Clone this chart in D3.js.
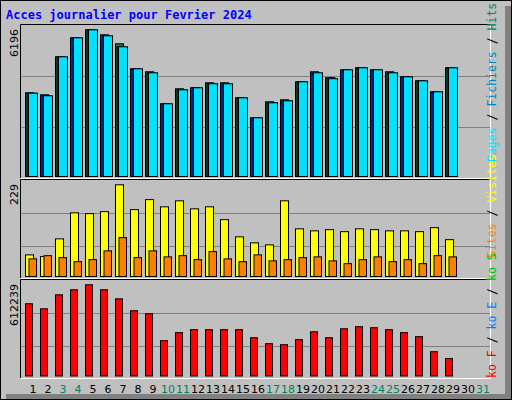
<!DOCTYPE html><html><head><meta charset="utf-8"><script src="https://cdn.jsdelivr.net/npm/d3@7"></script>
<style>body{margin:0;background:#fff}</style></head><body><svg id="c" width="512" height="400"></svg><script>
const days=d3.range(1,32);
const weekend=[3,4,10,11,17,18,24,25,31];
const hits=[3535,3451,5056,5859,6196,5985,5605,4549,4423,3071,3704,3747,3958,3958,3324,2480,3155,3240,4000,4423,4169,4507,4592,4507,4423,4211,4042,3578,4592];
const files=[3519,3409,5056,5859,6196,5943,5479,4549,4380,3071,3662,3747,3916,3916,3324,2480,3113,3198,4000,4380,4169,4507,4592,4507,4380,4211,4042,3578,4592];
const pages=[3519,3409,5056,5859,6196,5943,5479,4549,4380,3071,3662,3747,3916,3916,3324,2480,3113,3198,4000,4380,4130,4507,4592,4507,4380,4211,4042,3578,4592];
const visits=[54,50,94,159,157,162,229,167,192,174,189,169,174,142,99,84,79,189,119,114,117,112,119,117,114,114,112,122,92];
const sites=[44,52,47,37,42,64,97,47,64,49,52,42,62,44,37,54,39,42,47,49,39,32,42,49,37,42,32,52,49];
const kbytes=[485000,451000,545000,579000,612239,579000,518000,438000,418000,237000,291000,311000,311000,311000,311000,257000,217000,210000,244000,297000,257000,317000,331000,324000,311000,291000,264000,163000,117000];
const svg=d3.select("#c");
svg.append("rect").attr("x",0.5).attr("y",0.5).attr("width",511).attr("height",399).attr("fill","#c0c0c0").attr("stroke","#000");
svg.append("rect").attr("x",505).attr("y",6).attr("width",6).attr("height",393).attr("fill","#808080");
svg.append("rect").attr("x",6).attr("y",394).attr("width",505).attr("height",5).attr("fill","#808080");
svg.append("text").attr("x",6).attr("y",19).text("Acces journalier pour Fevrier 2024").attr("font-family","DejaVu Sans Mono").attr("font-weight","bold").attr("font-size",12).attr("fill","#0000ff");
const x=d3.scaleLinear().domain([1,31]).range([33,483]);
function panel(y0,y1,grids){
  svg.append("rect").attr("x",20.5).attr("y",y0+.5).attr("width",470).attr("height",y1-y0).attr("fill","#c0c0c0");
  grids.forEach(g=>svg.append("line").attr("x1",21).attr("x2",490).attr("y1",g).attr("y2",g).attr("stroke","#808080"));
  svg.append("path").attr("d",`M20.5,${y1}V${y0+.5}H490.5`).attr("stroke","#000").attr("fill","none");
  svg.append("path").attr("d",`M20.5,${y1+.5}H490.5V${y0+.5}`).attr("stroke","#fff").attr("fill","none");
}
panel(24,178,[76.5,127.5]);panel(179,278,[213.5,246.5]);panel(279,378,[313.5,346.5]);
function bars(data,ys,off,w,col){
  svg.append("g").selectAll("rect").data(data).join("rect")
   .attr("x",(d,i)=>x(i+1)+off+.5).attr("y",d=>ys(d)+.5).attr("width",w).attr("height",d=>ys.range()[0]-ys(d))
   .attr("fill",col).attr("stroke","#000");
}
const y1=d3.scaleLinear().domain([0,6196]).range([176,29.3]);
bars(hits,y1,-8,8,"#008060");bars(files,y1,-6.5,8,"#0040ff");bars(pages,y1,-5,9,"#00e0ff");
const y2=d3.scaleLinear().domain([0,229]).range([276,184.3]);
bars(visits,y2,-8,8,"#ffff00");bars(sites,y2,-4.5,7.5,"#ff8000");
const y3=d3.scaleLinear().domain([0,612239]).range([375.5,284.3]);
bars(kbytes,y3,-8,7,"#ff0000");
svg.append("g").selectAll("text").data(days).join("text").attr("x",d=>x(d)).attr("y",393).attr("text-anchor","middle")
 .attr("font-family","DejaVu Sans").attr("font-size",11).attr("fill",d=>weekend.includes(d)?"#008060":"#000").text(d=>d);
function vlab(txt,yTop){svg.append("text").attr("transform",`translate(18,${yTop}) rotate(-90)`).attr("text-anchor","end")
 .attr("font-family","DejaVu Sans").attr("font-size",11).text(txt);}
vlab("6196",29);vlab("229",184);vlab("612239",284);
function rlab(parts,yBottom){const t=svg.append("text").attr("transform",`translate(496,${yBottom}) rotate(-90)`)
 .attr("font-family","DejaVu Sans Mono").attr("font-size",11.5);
 parts.forEach(p=>t.append("tspan").attr("fill",p[1]).text(p[0]));}
const sl="#000";
rlab([["Pages","#00e0ff"],[" / ",sl],["Fichiers","#0080c0"],[" / ",sl],["Hits","#008060"]],162);
rlab([["Sites","#ff8000"],[" / ",sl],["Visites","#ffff00"]],258);
rlab([["ko F","#ff0000"],[" / ",sl],["ko E","#0080ff"],[" / ",sl],["ko S","#00c000"]],378);
</script></body></html>
